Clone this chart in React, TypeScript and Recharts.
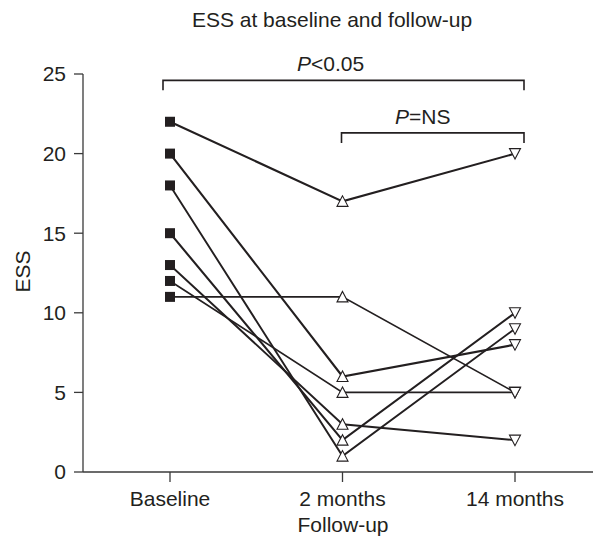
import { LineChart, Line, XAxis, YAxis, ReferenceLine } from 'recharts'

// ESS scores per subject at each visit
const CATEGORIES = ['Baseline', '2 months', '14 months']
const SUBJECT_1 = [22, 17, 20]
const SUBJECT_2 = [20, 6, 8]
const SUBJECT_3 = [18, 1, 9]
const SUBJECT_4 = [15, 2, 10]
const SUBJECT_5 = [13, 3, 2]
const SUBJECT_6 = [12, 5, 5]
const SUBJECT_7 = [11, 11, 5]
const Y_TICKS = [0, 5, 10, 15, 20, 25]

const SERIES = [
  { key: 's1', values: SUBJECT_1, width: 2.1 },
  { key: 's2', values: SUBJECT_2, width: 2.1 },
  { key: 's3', values: SUBJECT_3, width: 1.9 },
  { key: 's4', values: SUBJECT_4, width: 2.1 },
  { key: 's5', values: SUBJECT_5, width: 1.9 },
  { key: 's6', values: SUBJECT_6, width: 1.7 },
  { key: 's7', values: SUBJECT_7, width: 1.7 },
]

const data = CATEGORIES.map((name, i) => {
  const row: Record<string, any> = { name }
  SERIES.forEach(s => { row[s.key] = s.values[i] })
  return row
})

const INK = '#231f20'
const AXIS = '#3a3a3a'
const FONT = '"Liberation Sans", Arial, Helvetica, sans-serif'
const FS = 21

function Marker(props: any) {
  const { cx, cy, index } = props
  if (cx == null || cy == null) return null
  if (index === 0) {
    return <rect x={cx - 5} y={cy - 5} width={10} height={10} fill={INK} />
  }
  const pts = index === 1
    ? `${cx},${cy - 5.5} ${cx - 5.5},${cy + 5} ${cx + 5.5},${cy + 5}`
    : `${cx},${cy + 5.5} ${cx - 5.5},${cy - 5} ${cx + 5.5},${cy - 5}`
  return <polygon points={pts} fill="#fff" stroke={INK} strokeWidth={1.1} />
}

// significance bracket drawn on a reference segment
function bracket(label: string, rest: string, extL: number, extR: number, shift: number) {
  return (p: any) => {
    const x1 = p.x1 - extL
    const x2 = p.x2 + extR
    const y = p.y1
    return (
      <g>
        <path d={`M${x1},${y + 10} V${y} H${x2} V${y + 10}`} fill="none" stroke={INK} strokeWidth={1.6} />
        <text x={(x1 + x2) / 2 + shift} y={y - 9} textAnchor="middle" fontSize={FS} fill={INK} fontFamily={FONT}>
          <tspan fontStyle="italic">{label}</tspan>{rest}
        </text>
      </g>
    )
  }
}

export default function App() {
  return (
    <div style={{ position: 'absolute', left: 0, top: 0, width: 595, height: 538, fontFamily: FONT, color: INK, background: '#fff' }}>
      <div style={{ position: 'absolute', top: 9, left: 0, width: 664, textAlign: 'center', fontSize: FS, lineHeight: '21px' }}>
        ESS at baseline and follow-up
      </div>
      <div style={{ position: 'absolute', top: 262, left: 2, width: 40, textAlign: 'center', fontSize: FS, lineHeight: '21px', transform: 'rotate(-90deg)' }}>
        ESS
      </div>
      <div style={{ position: 'absolute', top: 514, left: 243, width: 200, textAlign: 'center', fontSize: FS, lineHeight: '21px' }}>
        Follow-up
      </div>
      <LineChart width={595} height={538} data={data} margin={{ top: 74, right: 2, bottom: 0, left: 0 }}>
        <XAxis
          dataKey="name"
          height={66}
          padding={{ left: 87, right: 78 }}
          stroke={AXIS}
          strokeWidth={1.3}
          tickSize={10}
          tickMargin={9}
          tick={{ fill: INK, fontSize: FS, fontFamily: FONT }}
          interval={0}
        />
        <YAxis
          width={83}
          domain={[0, 25]}
          ticks={Y_TICKS}
          stroke={AXIS}
          strokeWidth={1.3}
          tickSize={9}
          tickMargin={8}
          tick={{ fill: INK, fontSize: FS, fontFamily: FONT }}
          allowDataOverflow
        />
        <ReferenceLine
          segment={[{ x: 'Baseline', y: 24.6 }, { x: '14 months', y: 24.6 }]}
          shape={bracket('P', '<0.05', 7, 9, -13)}
          ifOverflow="visible"
        />
        <ReferenceLine
          segment={[{ x: '2 months', y: 21.3 }, { x: '14 months', y: 21.3 }]}
          shape={bracket('P', '=NS', 1, 9, -10)}
          ifOverflow="visible"
        />
        {SERIES.map(s => (
          <Line
            key={s.key}
            type="linear"
            dataKey={s.key}
            stroke={INK}
            strokeWidth={s.width}
            dot={<Marker />}
            activeDot={false}
            isAnimationActive={false}
          />
        ))}
      </LineChart>
    </div>
  )
}
